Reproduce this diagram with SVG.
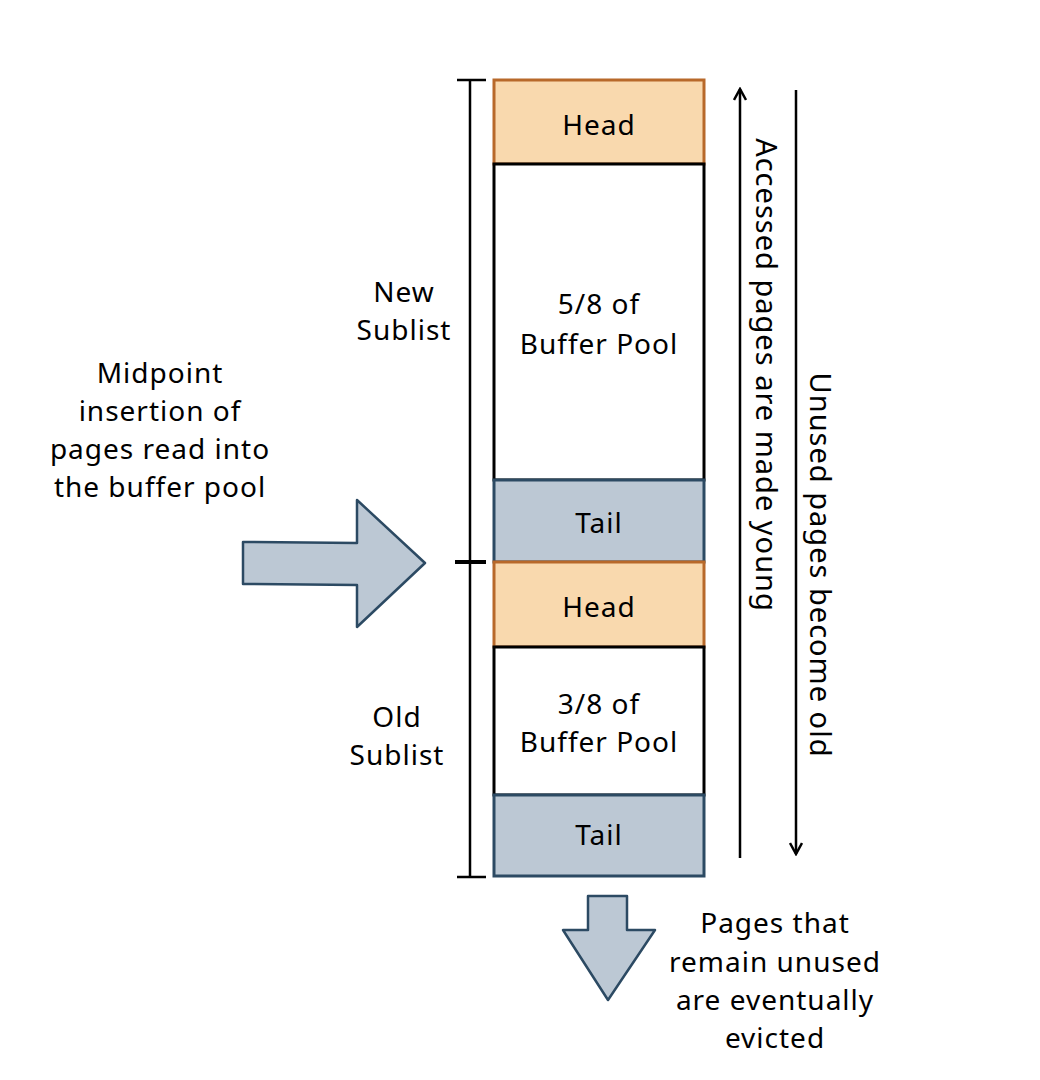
<svg xmlns="http://www.w3.org/2000/svg" width="1040" height="1080" viewBox="0 0 1040 1080">
<defs>
<style>
text{font-family:"Noto Sans","Open Sans",sans-serif;font-size:28px;fill:#000;text-anchor:middle;letter-spacing:1px}
.head{fill:#f9d9ae;stroke:#b8692a;stroke-width:3}
.tail{fill:#bcc8d4;stroke:#2c4a63;stroke-width:3}
.white{fill:#fff;stroke:#000;stroke-width:3}
.line{stroke:#000;stroke-width:2.5;fill:none}
.big{fill:#bcc8d4;stroke:#2c4a63;stroke-width:2.5;stroke-linejoin:round}
</style>
<marker id="ah" viewBox="0 0 14 14" refX="12" refY="7" markerWidth="14" markerHeight="14" markerUnits="userSpaceOnUse" orient="auto">
<path d="M1,1 L12,7 L1,13" fill="none" stroke="#000" stroke-width="2.5"/>
</marker>
</defs>
<rect width="1040" height="1080" fill="#fff"/>
<g id="head1"><rect class="head" x="494" y="80" width="210" height="84"/><text x="599" y="135">Head</text></g>
<g id="new-body"><rect class="white" x="494" y="164" width="210" height="316"/><text x="599" y="314">5/8 of</text><text x="599" y="354">Buffer Pool</text></g>
<g id="tail1"><rect class="tail" x="494" y="480" width="210" height="82"/><text x="599" y="533">Tail</text></g>
<g id="head2"><rect class="head" x="494" y="562" width="210" height="85"/><text x="599" y="617">Head</text></g>
<g id="old-body"><rect class="white" x="494" y="647" width="210" height="148"/><text x="599" y="714">3/8 of</text><text x="599" y="752">Buffer Pool</text></g>
<g id="tail2"><rect class="tail" x="494" y="795" width="210" height="81"/><text x="599" y="845">Tail</text></g>
<g id="bracket">
<path class="line" d="M470,80 V877 M457,80 H486 M457,877 H486"/>
<path d="M455,562 H486" stroke="#000" stroke-width="4"/>
</g>
<g id="new-label"><text x="404" y="302">New</text><text x="404" y="340">Sublist</text></g>
<g id="old-label"><text x="397" y="727">Old</text><text x="397" y="765">Sublist</text></g>
<g id="midpoint-label"><text x="160" y="383">Midpoint</text><text x="160" y="421">insertion of</text><text x="160" y="459">pages read into</text><text x="160" y="497">the buffer pool</text></g>
<g id="evict-label"><text x="775" y="933">Pages that</text><text x="775" y="972">remain unused</text><text x="775" y="1010">are eventually</text><text x="775" y="1048">evicted</text></g>
<g id="insert-arrow"><path class="big" d="M243,542 L357,543 L357,500 L425,563 L357,627 L357,585 L243,584 Z"/></g>
<g id="evict-arrow"><path class="big" d="M588,896 L627,896 L627,930 L655,930 L608,1000 L563,930 L588,930 Z"/></g>
<g id="connectors">
<path class="line" d="M740,858 V89" marker-end="url(#ah)"/>
<path class="line" d="M796,90 V854" marker-end="url(#ah)"/>
</g>
<g id="young-label"><text transform="translate(756,375) rotate(90)" style="font-size:29px">Accessed pages are made young</text></g>
<g id="old-arrow-label"><text transform="translate(810,565) rotate(90)" style="font-size:29px">Unused pages become old</text></g>
</svg>
